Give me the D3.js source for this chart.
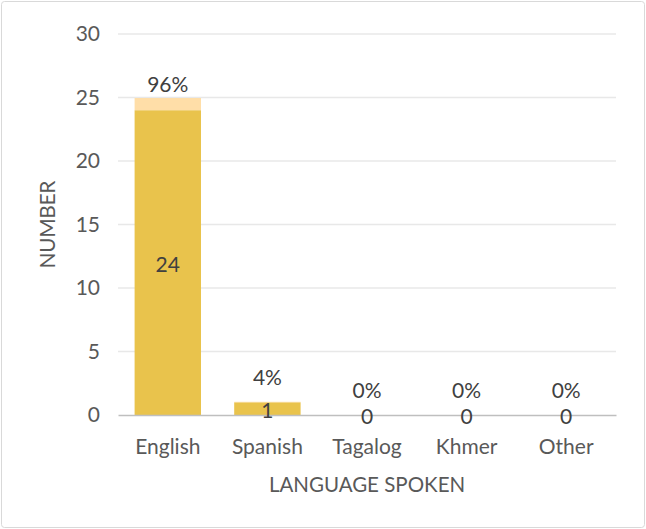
<!DOCTYPE html>
<html><head><meta charset="utf-8">
<script src="https://cdn.jsdelivr.net/npm/d3@7"></script>
<style>body{margin:0;background:#fff}svg{display:block}text{font-family:Lato,"Open Sans",sans-serif;fill:#595959}</style>
</head><body>
<svg id="c" width="646" height="529"></svg>
<script>
const categories = ["English","Spanish","Tagalog","Khmer","Other"];
const counts = [24,1,0,0,0];
const percents = [0.96,0.04,0,0,0];
const yTicks = [0,5,10,15,20,25,30];

const svg = d3.select("#c");
svg.append("rect").attr("x",1.5).attr("y",1.5).attr("width",643).attr("height",526)
  .attr("rx",3).attr("fill","#fff").attr("stroke","#d9d9d9");

const m = {l:118, r:30, t:34, b:114};
const W = 646, H = 529;
const FS = 21;
const x = d3.scaleBand().domain(categories).range([m.l, W-m.r]).paddingInner(1/3).paddingOuter(1/6);
const y = d3.scaleLinear().domain([0,30]).range([H-m.b, m.t]);

// gridlines
svg.append("g").selectAll("line").data(yTicks.filter(d=>d>0)).join("line")
  .attr("x1",m.l).attr("x2",W-m.r).attr("y1",d=>y(d)).attr("y2",d=>y(d))
  .attr("stroke","#e8e8e8").attr("stroke-width",1.3);

// y tick labels
const ya = svg.append("g").attr("transform",`translate(${m.l},0)`)
  .call(d3.axisLeft(y).tickValues(yTicks).tickSize(0).tickPadding(18));
ya.select(".domain").remove();
ya.selectAll("text").attr("font-size",FS).attr("fill","#595959").style("font-family","Lato,'Open Sans',sans-serif");

// bars
svg.append("g").selectAll("rect").data(categories).join("rect")
  .attr("x",d=>x(d)).attr("width",x.bandwidth())
  .attr("y",(d,i)=>y(counts[i])).attr("height",(d,i)=>y(0)-y(counts[i]))
  .attr("fill","#E9C34C");
svg.append("g").selectAll("rect").data(categories).join("rect")
  .attr("x",d=>x(d)).attr("width",x.bandwidth())
  .attr("y",(d,i)=>y(counts[i]+percents[i])).attr("height",(d,i)=>y(counts[i])-y(counts[i]+percents[i]))
  .attr("fill","#FFDEA8");

// x axis
const xa = svg.append("g").attr("transform",`translate(0,${y(0)})`)
  .call(d3.axisBottom(x).tickSize(0).tickPadding(24));
xa.select(".domain").attr("stroke","#bfbfbf").attr("stroke-width",1.5);
xa.selectAll("text").attr("font-size",FS).attr("fill","#595959").style("font-family","Lato,'Open Sans',sans-serif");

// count labels
svg.append("g").selectAll("text").data(categories).join("text")
  .attr("x",d=>x(d)+x.bandwidth()/2).attr("y",(d,i)=>y(counts[i]/2)+2)
  .attr("dy","0.35em").attr("text-anchor","middle").attr("font-size",FS)
  .style("fill","#404040").text((d,i)=>counts[i]);

// percent labels
svg.append("g").selectAll("text").data(categories).join("text")
  .attr("x",d=>x(d)+x.bandwidth()/2)
  .attr("y",(d,i)=>y(counts[i]+percents[i]) - (counts[i]>5 ? 13 : 24))
  .attr("dy","0.35em").attr("text-anchor","middle").attr("font-size",FS)
  .style("fill","#404040").text((d,i)=>d3.format(".0%")(percents[i]));

// axis titles
svg.append("text").attr("x",(m.l+W-m.r)/2).attr("y",492).attr("text-anchor","middle")
  .attr("font-size",20.5).text("LANGUAGE SPOKEN");
svg.append("text").attr("transform",`translate(55,${(m.t+H-m.b)/2}) rotate(-90)`)
  .attr("text-anchor","middle").attr("font-size",20.5).text("NUMBER");
</script>
</body></html>
